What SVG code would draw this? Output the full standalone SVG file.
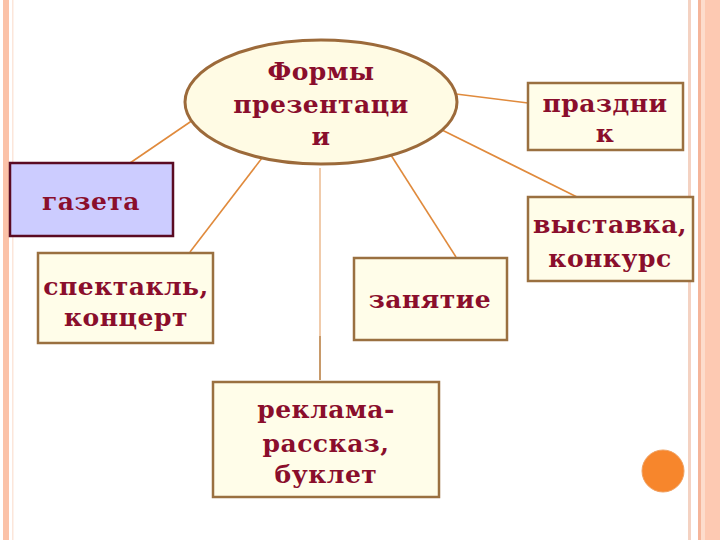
<svg xmlns="http://www.w3.org/2000/svg" width="720" height="540" viewBox="0 0 720 540">
<style>
.box{fill:#FFFDE9;stroke:#9A7040;stroke-width:2.5}
.t{font-family:"DejaVu Serif","Liberation Serif",serif;font-weight:bold;font-size:25px;letter-spacing:0.5px;fill:#8A0E2C;text-anchor:middle}
.c{stroke:#E08A3C;stroke-width:1.6;fill:none}
</style>
<rect x="0" y="0" width="720" height="540" fill="#FFFFFF"/>
<g id="frame">
<rect x="3" y="0" width="6" height="540" fill="#FBC2A8"/>
<rect x="12" y="0" width="1.5" height="540" fill="#FCE6DA"/>
<rect x="688" y="0" width="3" height="540" fill="#F4D2C2"/>
<rect x="698" y="0" width="3" height="540" fill="#F5B59A"/>
<rect x="701" y="0" width="4" height="540" fill="#FDDCCC"/>
<rect x="705" y="0" width="15" height="540" fill="#FDC9B2"/>
</g>
<g id="connectors">
<line class="c" x1="193" y1="120" x2="130" y2="163"/>
<line class="c" x1="262" y1="158" x2="190" y2="252"/>
<line x1="320" y1="168" x2="320" y2="336" stroke="#EDBE96" stroke-width="1.6"/>
<line x1="320" y1="336" x2="320" y2="380" stroke="#C89A6A" stroke-width="2"/>
<line class="c" x1="389" y1="152" x2="456" y2="257"/>
<line class="c" x1="456" y1="94" x2="528" y2="103"/>
<line class="c" x1="442" y1="130" x2="577" y2="197"/>
</g>
<g id="center">
<ellipse cx="321" cy="102" rx="136" ry="62" fill="#FFFBE4" stroke="#9C6A3A" stroke-width="3"/>
<text class="t" x="321" y="80">Формы</text>
<text class="t" x="321" y="113">презентаци</text>
<text class="t" x="321" y="145">и</text>
</g>
<g id="prazdnik">
<rect class="box" x="528" y="83" width="155" height="67"/>
<text class="t" x="605" y="112">праздни</text>
<text class="t" x="605" y="142">к</text>
</g>
<g id="vystavka">
<rect class="box" x="528" y="197" width="165" height="84"/>
<text class="t" x="610" y="233">выставка,</text>
<text class="t" x="610" y="267">конкурс</text>
</g>
<g id="gazeta">
<rect x="10" y="163" width="163" height="73" fill="#CCCCFF" stroke="#5A0A22" stroke-width="2.5"/>
<text class="t" x="91" y="210">газета</text>
</g>
<g id="spektakl">
<rect class="box" x="38" y="253" width="175" height="90"/>
<text class="t" x="126" y="295">спектакль,</text>
<text class="t" x="126" y="326">концерт</text>
</g>
<g id="zanyatie">
<rect class="box" x="354" y="258" width="153" height="82"/>
<text class="t" x="430" y="308">занятие</text>
</g>
<g id="reklama">
<rect class="box" x="213" y="382" width="226" height="115"/>
<text class="t" x="326" y="418">реклама-</text>
<text class="t" x="326" y="452">рассказ,</text>
<text class="t" x="326" y="483">буклет</text>
</g>
<circle cx="663" cy="471" r="21" fill="#F7862C" stroke="#F0A060" stroke-width="1"/>
</svg>
